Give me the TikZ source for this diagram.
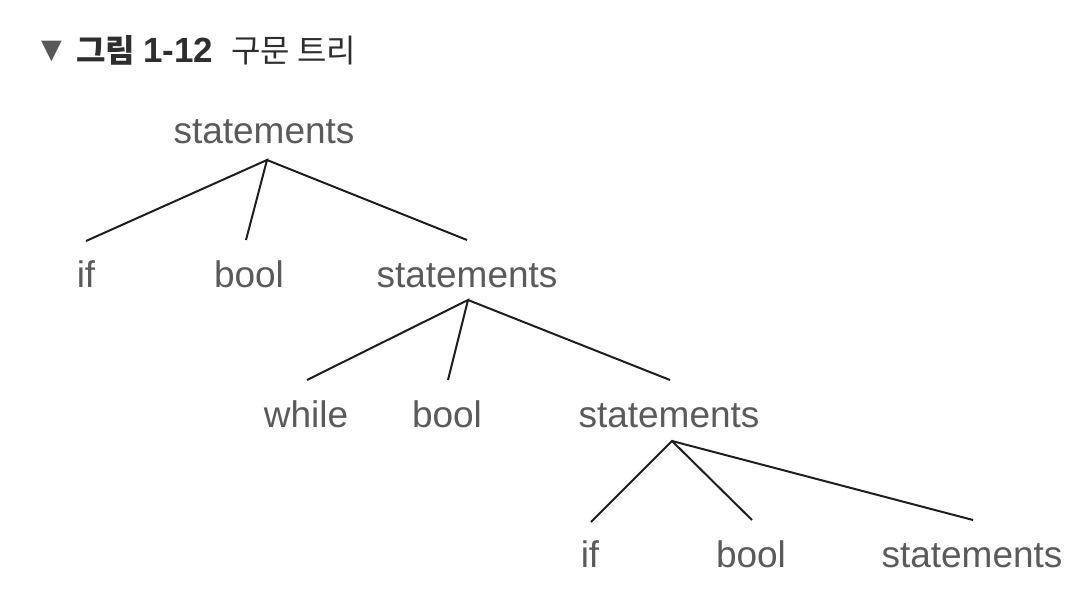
\documentclass[tikz,border=0pt]{standalone}
\usepackage{fontspec}
\setmainfont{Liberation Sans}
\newfontfamily\kr{Noto Sans CJK KR}
\newfontfamily\sym{DejaVu Sans}
\definecolor{txtgray}{HTML}{5A5A5A}
\definecolor{linec}{HTML}{1E1E1E}
\definecolor{titlec}{HTML}{2E2E2E}
\begin{document}
\begin{tikzpicture}[x=1pt,y=-1pt,
  tok/.style={anchor=base,inner sep=0pt,text=txtgray,font=\fontsize{37}{44}\selectfont},
  edge/.style={draw=linec,line width=2pt}]
\useasboundingbox (0,0) rectangle (1088,616);
% title
\node[anchor=base west,inner sep=0pt,text=titlec!80,font=\sym\fontsize{27}{30}\selectfont] (tri) at (41,58) {▼};
\node[anchor=base west,inner sep=0pt,text=titlec,font=\kr\fontsize{32}{36}\selectfont] (title) at (76,62) {\textbf{그림}\hspace{8pt}{\rmfamily\bfseries\fontsize{35}{40}\selectfont 1-12}\hspace{18pt}구문 트리};
% level 1
\node[tok] (s1) at (264,143) {statements};
% level 2
\node[tok] (if1) at (86,287) {if};
\node[tok] (b1) at (249,287) {bool};
\node[tok] (s2) at (467,287) {statements};
% level 3
\node[tok] (w) at (306,427) {while};
\node[tok] (b2) at (447,427) {bool};
\node[tok] (s3) at (669,427) {statements};
% level 4
\node[tok] (if2) at (590,567) {if};
\node[tok] (b3) at (751,567) {bool};
\node[tok] (s4) at (972,567) {statements};
% connector points
\coordinate (s1a) at (267,160);
\coordinate (if1t) at (86,241);
\coordinate (b1t) at (246,240);
\coordinate (s2t) at (467,240);
\coordinate (s2a) at (468,300);
\coordinate (wt) at (307,380);
\coordinate (b2t) at (448,380);
\coordinate (s3t) at (670,380);
\coordinate (s3a) at (672,441);
\coordinate (if2t) at (591,522);
\coordinate (b3t) at (752,520);
\coordinate (s4t) at (973,520);
\draw[edge] (if1t) -- (s1a) -- (b1t);
\draw[edge] (s1a) -- (s2t);
\draw[edge] (wt) -- (s2a) -- (b2t);
\draw[edge] (s2a) -- (s3t);
\draw[edge] (if2t) -- (s3a) -- (b3t);
\draw[edge] (s3a) -- (s4t);
\end{tikzpicture}
\end{document}
